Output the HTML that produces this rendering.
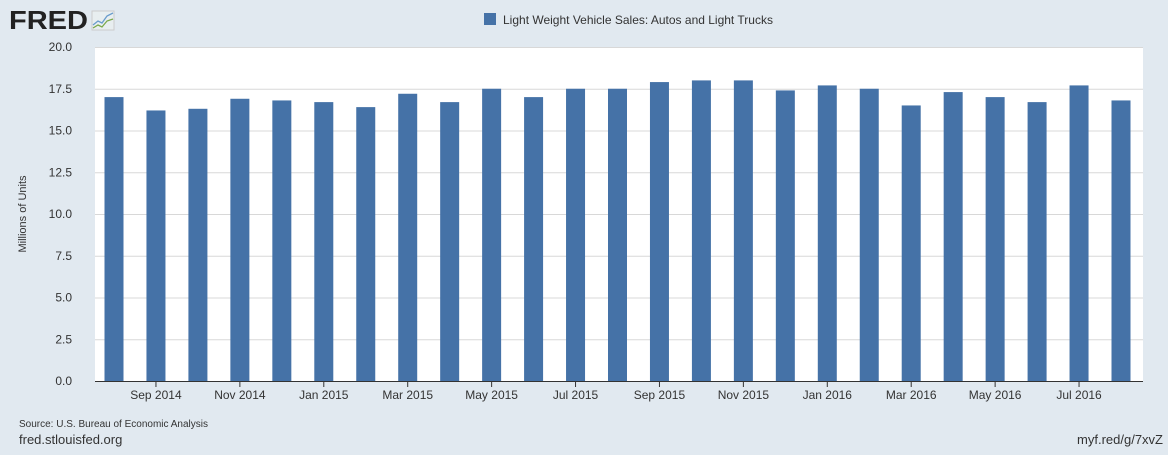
<!DOCTYPE html>
<html><head><meta charset="utf-8"><style>
body{margin:0;width:1168px;height:450px;background:#e1e9f0;font-family:"Liberation Sans",sans-serif;overflow:hidden}
</style></head><body>
<svg width="1168" height="450" xmlns="http://www.w3.org/2000/svg" id="chart">
<rect width="1168" height="450" fill="#e1e9f0"/>
<g>
<text x="9" y="29" font-size="26" font-weight="bold" fill="#222" textLength="79" lengthAdjust="spacingAndGlyphs">FRED</text>
<rect x="92" y="11" width="22" height="19" fill="#e8eef0" stroke="#ccc"/>
<polyline points="93,25 98,21 102,23 107,16 113,13" fill="none" stroke="#6a9ccc" stroke-width="1.3"/>
<polyline points="93,28 98,25 102,27 107,21 113,19" fill="none" stroke="#7aa84a" stroke-width="1.3"/>
</g>
<g>
<rect x="484" y="13" width="12" height="12" fill="#4572a7"/>
<text x="503" y="24" font-size="12" fill="#333">Light Weight Vehicle Sales: Autos and Light Trucks</text>
</g>
<rect x="95" y="47" width="1048" height="334" fill="#fff"/>
<g id="grid"></g><g id="bars"></g><g id="yt"></g><g id="xt"></g>
<line x1="95" y1="381.5" x2="1143" y2="381.5" stroke="#333" stroke-width="1"/>
<text x="26" y="214" font-size="11" fill="#333" transform="rotate(-90 26 214)" text-anchor="middle">Millions of Units</text>
<text x="19" y="427" font-size="10" fill="#333">Source: U.S. Bureau of Economic Analysis</text>
<text x="19" y="444" font-size="13" fill="#333">fred.stlouisfed.org</text>
<text x="1163" y="444" font-size="13" fill="#333" text-anchor="end">myf.red/g/7xvZ</text>
</svg>
<script>
const months=["Aug 2014","Sep 2014","Oct 2014","Nov 2014","Dec 2014","Jan 2015","Feb 2015","Mar 2015","Apr 2015","May 2015","Jun 2015","Jul 2015","Aug 2015","Sep 2015","Oct 2015","Nov 2015","Dec 2015","Jan 2016","Feb 2016","Mar 2016","Apr 2016","May 2016","Jun 2016","Jul 2016","Aug 2016"];
const sales=[17.0,16.2,16.3,16.9,16.8,16.7,16.4,17.2,16.7,17.5,17.0,17.5,17.5,17.9,18.0,18.0,17.4,17.7,17.5,16.5,17.3,17.0,16.7,17.7,16.8];
const yTicks=["0.0","2.5","5.0","7.5","10.0","12.5","15.0","17.5","20.0"];
const NS="http://www.w3.org/2000/svg";
const y0=381,y1=47,ymax=20;
const yS=v=>y0-(v/ymax)*(y0-y1);
const step=(1121-114)/(months.length-1);
const xS=i=>114+i*step;
const bw=19;
function mk(t,a,p){const e=document.createElementNS(NS,t);for(const k in a)e.setAttribute(k,a[k]);p.appendChild(e);return e;}
const grid=document.getElementById('grid'),yt=document.getElementById('yt'),bars=document.getElementById('bars'),xt=document.getElementById('xt');
yTicks.forEach(t=>{const y=yS(parseFloat(t));
if(parseFloat(t)>0){const l=mk('line',{x1:95,x2:1143,y1:y+0.5,y2:y+0.5,stroke:'#d8d8d8'},grid);

}
const tx=mk('text',{x:72,y:y+4,'font-size':12,fill:'#333','text-anchor':'end'},yt);tx.textContent=t;

});
sales.forEach((v,i)=>{const r=mk('rect',{x:xS(i)-bw/2,y:yS(v),width:bw,height:y0-yS(v),fill:'#4572a7'},bars);


if(i%2===1){const x=xS(i);const tk=mk('line',{x1:x,x2:x,y1:381,y2:387,stroke:'#333'},xt);


const t=mk('text',{x:x,y:399,'font-size':12,fill:'#333','text-anchor':'middle'},xt);t.textContent=months[i];

}});
</script>
</body></html>
